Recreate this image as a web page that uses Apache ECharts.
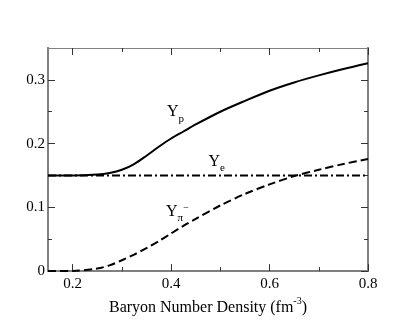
<!DOCTYPE html>
<html>
<head>
<meta charset="utf-8">
<script src="https://cdn.jsdelivr.net/npm/echarts@6/dist/echarts.min.js"></script>
<style>
  html, body { margin: 0; padding: 0; background: #fff; }
  #main { width: 415px; height: 321px; }
</style>
</head>
<body>
<div id="main"></div>
<script>
// baryon number density (fm^-3)
var density   = [0.15, 0.2, 0.25, 0.275, 0.3, 0.325, 0.35, 0.375, 0.4, 0.425, 0.45, 0.5, 0.55, 0.6, 0.65, 0.7, 0.75, 0.8];
var yProton   = [0.150, 0.150, 0.1515, 0.154, 0.159, 0.168, 0.181, 0.195, 0.208, 0.219, 0.230, 0.250, 0.267, 0.283, 0.296, 0.307, 0.317, 0.326];
var yElectron = [0.150, 0.150, 0.150, 0.150, 0.150, 0.150, 0.150, 0.150, 0.150, 0.150, 0.150, 0.150, 0.150, 0.150, 0.150, 0.150, 0.150, 0.150];
var yPion     = [0.000, 0.0003, 0.004, 0.009, 0.017, 0.026, 0.036, 0.047, 0.059, 0.071, 0.082, 0.103, 0.121, 0.136, 0.149, 0.159, 0.168, 0.176];

var xMajor = [0.2, 0.4, 0.6, 0.8];
var xMinor = [0.3, 0.5, 0.7];
var yMajor = [0, 0.1, 0.2, 0.3];
var yMinor = [0.05, 0.15, 0.25];

// curve labels (data coords)
var labelText = ['{y|Y}{s|p}', '{y|Y}{s|e}', '{y|Y}{s|π}{u|−}'];
var labelX = [0.404, 0.488, 0.402];
var labelY = [0.246, 0.168, 0.090];

var serif = '"Liberation Serif", "Times New Roman", "DejaVu Serif", serif';
var axisGray = '#808080';

function pairs(ys) {
    return density.map(function (x, i) { return [x, ys[i]]; });
}

function xAx(pos, ticks, len, labels) {
    return {
        type: 'value', position: pos, min: 0.15, max: 0.8,
        axisLine: { show: true, onZero: false, lineStyle: { color: axisGray, width: pos === 'top' ? 1 : 2 } },
        axisTick: { show: true, inside: true, length: len, customValues: ticks, lineStyle: { color: '#333' } },
        axisLabel: labels ? {
            show: true, customValues: ticks, margin: 5,
            fontFamily: serif, fontSize: 15, color: '#000',
            formatter: function (v) { return String(v); }
        } : { show: false },
        splitLine: { show: false }
    };
}

function yAx(pos, ticks, len, labels) {
    return {
        type: 'value', position: pos, min: 0, max: 0.35,
        axisLine: { show: true, onZero: false, lineStyle: { color: axisGray, width: 2 } },
        axisTick: { show: true, inside: true, length: len, customValues: ticks, lineStyle: { color: '#333' } },
        axisLabel: labels ? {
            show: true, customValues: ticks, margin: 3,
            fontFamily: serif, fontSize: 15, color: '#000',
            formatter: function (v) { return String(v); }
        } : { show: false },
        splitLine: { show: false }
    };
}

var bottomX = xAx('bottom', xMajor, 7, true);
bottomX.name = '{a|Baryon Number Density (fm}{u|-3}{a|)}';
bottomX.nameLocation = 'middle';
bottomX.nameGap = 20;
bottomX.nameTextStyle = {
    rich: {
        a: { fontFamily: serif, fontSize: 16, color: '#000', verticalAlign: 'top', padding: [4, 0, 0, 0] },
        u: { fontFamily: serif, fontSize: 10, color: '#000', verticalAlign: 'top' }
    }
};

var myChart = echarts.init(document.getElementById('main'));
var options = {
    animation: false,
    backgroundColor: '#fff',
    grid: { left: 48, right: 47, top: 48, bottom: 48 },
    xAxis: [bottomX, xAx('bottom', xMinor, 4, false), xAx('top', xMajor, 7, false), xAx('top', xMinor, 4, false)],
    yAxis: [yAx('left', yMajor, 7, true), yAx('left', yMinor, 4, false), yAx('right', yMajor, 7, false), yAx('right', yMinor, 4, false)],
    series: [
        {
            name: 'Yp', type: 'line', data: pairs(yProton), smooth: 0.3, showSymbol: false,
            lineStyle: { color: '#000', width: 2, type: 'solid' }
        },
        {
            name: 'Ye', type: 'line', data: pairs(yElectron), showSymbol: false,
            lineStyle: { color: '#000', width: 2, type: [8, 3, 2, 3] }
        },
        {
            name: 'Ypi', type: 'line', data: pairs(yPion), smooth: 0.3, showSymbol: false,
            lineStyle: { color: '#000', width: 2, type: [8, 4] }
        }
    ]
};
myChart.setOption(options);

// curve labels
var rich = {
    y: { fontFamily: serif, fontSize: 16, fill: '#000', color: '#000', verticalAlign: 'top' },
    s: { fontFamily: serif, fontSize: 11, fill: '#000', color: '#000', verticalAlign: 'top', padding: [9, 0, 0, 0] },
    u: { fontFamily: serif, fontSize: 10, fill: '#000', color: '#000', verticalAlign: 'top', padding: [0, 0, 0, 0] }
};
var graphics = labelText.map(function (t, i) {
    var p = myChart.convertToPixel({ xAxisIndex: 0, yAxisIndex: 0 }, [labelX[i], labelY[i]]);
    return {
        type: 'text', x: p[0] - 6, y: p[1],
        style: { text: t, rich: rich, align: 'left', verticalAlign: 'middle', fill: '#000' }
    };
});
myChart.setOption({ graphic: graphics });
</script>
</body>
</html>
